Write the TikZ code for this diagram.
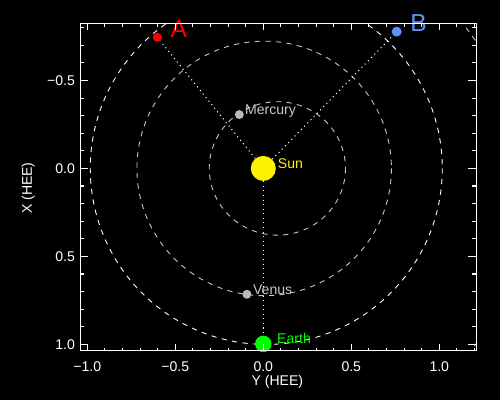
\documentclass[tikz,border=0pt]{standalone}
\usepackage{fontspec}
\setmainfont{Liberation Sans}
\usetikzlibrary{positioning}
\definecolor{orbitgray}{RGB}{200,200,200}
\definecolor{planetgray}{RGB}{185,185,185}
\definecolor{scblue}{RGB}{95,145,245}

\begin{document}
\begin{tikzpicture}[x=3.52cm, y=-3.52cm, font=\fontsize{8}{9}\selectfont,
    body/.style={circle, inner sep=0pt},
    lbl/.style={anchor=base west, inner sep=0pt},
    orbit/.style={dash pattern=on 3pt off 3pt, line width=0.5pt},
    tick/.style={white, line width=0.6pt},
    ticklbl/.style={white, inner sep=0pt},
    bigfont/.style={font=\fontsize{14}{16}\selectfont}]
  % black page, 500x400 px
  \fill[black] (-1.496,-0.957) rectangle (1.345,1.315);
  \useasboundingbox (-1.496,-0.957) rectangle (1.345,1.315);

  % orbits, clipped to the plot box
  \begin{scope}
    \clip (-1.04,-0.825) rectangle (1.21,1.037);
    \draw[orbit, orbitgray] (0.08,0) ellipse [x radius=0.387, y radius=0.379];
    \draw[orbit, orbitgray] (0.005,0) circle [radius=0.723];
    \draw[orbit, white] (0.017,0) circle [radius=1.0];
    \draw[orbit, orbitgray] (-0.05,0.138) circle [radius=1.524];
  \end{scope}

  % sun, planets and the two spacecraft
  \node[body, fill=yellow, minimum size=0.5cm] (sun) at (0,0) {};
  \node[body, fill=planetgray, minimum size=0.18cm] (mercury) at (-0.136,-0.306) {};
  \node[body, fill=planetgray, minimum size=0.18cm] (venus) at (-0.093,0.715) {};
  \node[body, fill=green, minimum size=0.33cm] (earth) at (0,0.997) {};
  \node[body, fill=red, minimum size=0.18cm] (scA) at (-0.602,-0.745) {};
  \node[body, fill=scblue, minimum size=0.2cm] (scB) at (0.758,-0.777) {};

  \draw[white, dotted, line width=0.6pt] (sun) -- (scA);
  \draw[white, dotted, line width=0.6pt] (sun) -- (scB);
  \draw[white, dotted, line width=0.6pt] (sun) -- (earth);

  \node[right=0.03cm of sun, lbl, yellow] (sunlbl) {Sun};
  \node[right=0.01cm of mercury, lbl, orbitgray] (mercurylbl) {Mercury};
  \node[right=0.02cm of venus, lbl, orbitgray] (venuslbl) {Venus};
  \node[right=0.1cm of earth, lbl, green] (earthlbl) {Earth};
  \node[right=0.16cm of scA, lbl, red, bigfont] (Albl) {A};
  \node[right=0.16cm of scB, lbl, scblue, bigfont] (Blbl) {B};

  % plot box and ticks
  \draw[tick] (-1.04,-0.825) rectangle (1.21,1.037);
  \foreach \i in {-10,...,12} {
    \pgfmathsetmacro{\t}{\i/10}
    \draw[tick] (\t,1.037) -- ++(0,-0.019);
    \draw[tick] (\t,-0.825) -- ++(0,0.019);
  }
  \foreach \i in {-8,...,10} {
    \pgfmathsetmacro{\t}{\i/10}
    \draw[tick] (-1.04,\t) -- ++(0.023,0);
    \draw[tick] (1.21,\t) -- ++(-0.023,0);
  }
  \foreach \t/\s [count=\n] in {-1/−1.0, -0.5/−0.5, 0/0.0, 0.5/0.5, 1/1.0} {
    \draw[tick] (\t,1.037) -- ++(0,-0.038);
    \draw[tick] (\t,-0.825) -- ++(0,0.038);
    \node[ticklbl, anchor=north] (ytick\n) at (\t,1.094) {\s};
  }
  \foreach \t/\s [count=\n] in {-0.5/−0.5, 0/0.0, 0.5/0.5, 1/1.0} {
    \draw[tick] (-1.04,\t) -- ++(0.045,0);
    \draw[tick] (1.21,\t) -- ++(-0.045,0);
    \node[ticklbl, anchor=east] (xtick\n) at (-1.068,\t) {\s};
  }

  % axis titles
  \node[ticklbl] (ytitle) at (0.08,1.21) {Y (HEE)};
  \node[ticklbl, rotate=90] (xtitle) at (-1.335,0.112) {X (HEE)};
\end{tikzpicture}
\end{document}
